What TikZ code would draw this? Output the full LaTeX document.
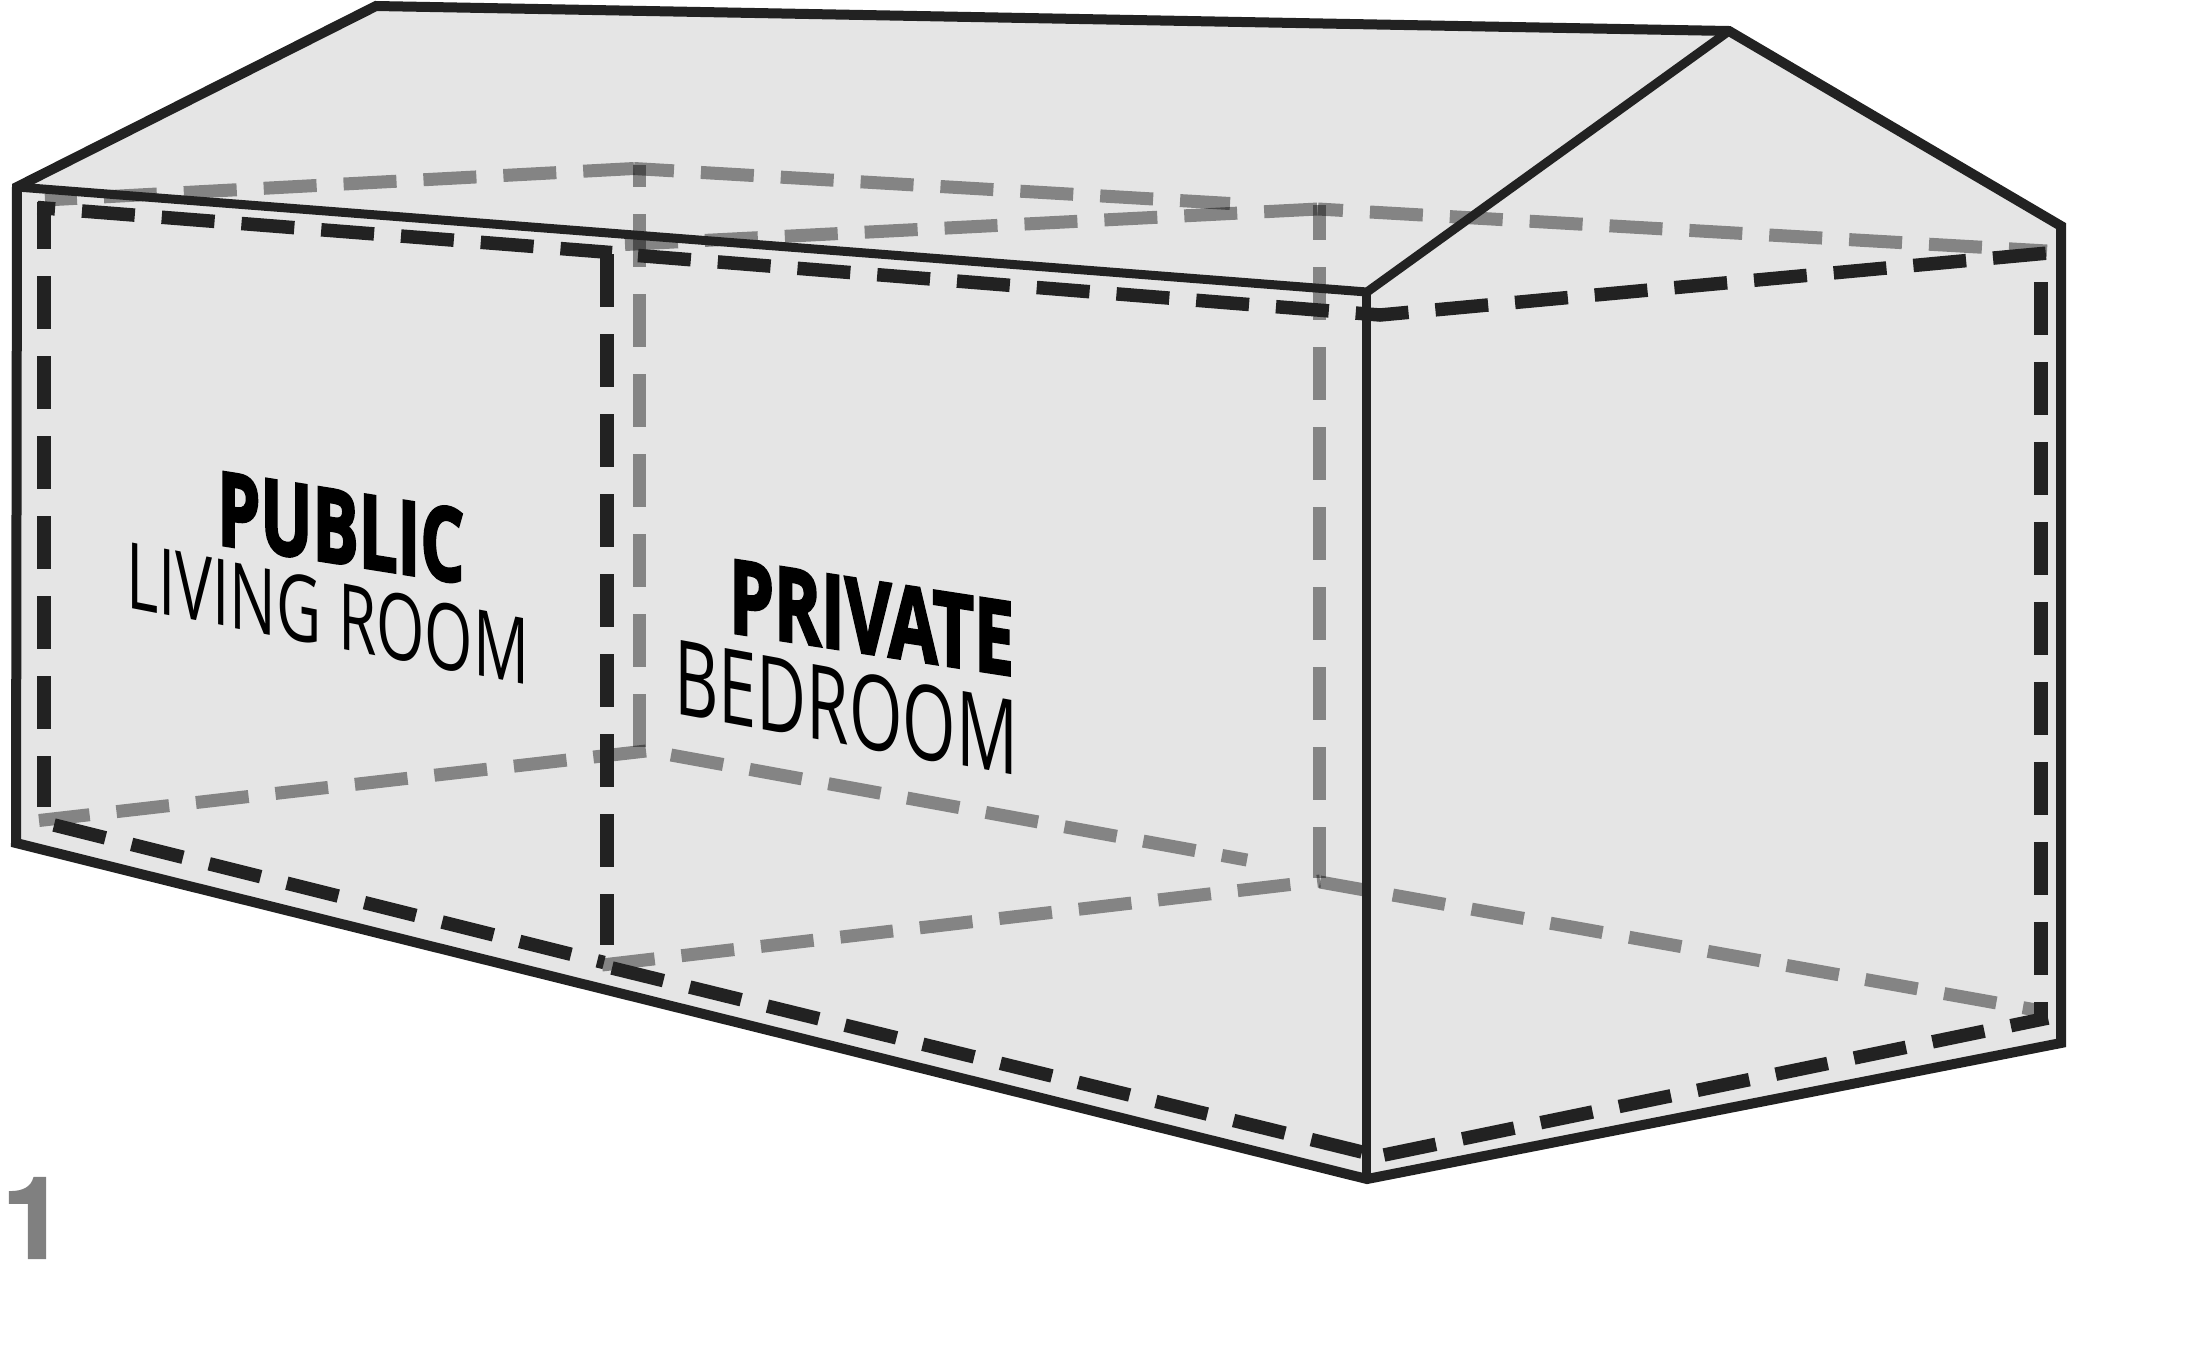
\documentclass[tikz,border=0pt]{standalone}
\usepackage{fontspec}
\setmainfont{Open Sans}
\newfontfamily\numfont{TeX Gyre Heros}
\definecolor{ink}{HTML}{222222}
\definecolor{wallfill}{HTML}{E5E5E5}
\definecolor{numgray}{HTML}{808080}
\tikzset{
  outline/.style={draw=ink,line width=10pt,line join=miter},
  edgeline/.style={draw=ink,line width=9pt},
  blackdash/.style={draw=ink,line width=13.5pt,dash pattern=on 53pt off 27pt},
  greydash/.style={draw=black,draw opacity=.42,line width=13pt,dash pattern=on 53pt off 27pt},
  boldlab/.style={transform shape,anchor=base west,inner sep=0pt,text=black,font=\fontsize{102}{102}\selectfont\bfseries\addfontfeatures{FakeBold=3}},
  thinlab/.style={transform shape,anchor=base west,inner sep=0pt,text=black},
}
\begin{document}
\begin{tikzpicture}[x=1pt,y=-1pt]
\useasboundingbox (0,0) rectangle (2200,1361);
% house silhouette fill
\fill[wallfill] (17,187) -- (376,6) -- (1729,31) -- (2061,226) -- (2061,1043) -- (1367,1179) -- (16,843) -- cycle;
% hidden (rear) lines, grey
\draw[greydash,dash phase=21pt] (45,200) -- (634,168.5);
\draw[greydash,dash phase=13pt] (634,168.5) -- (1230,203.5);
\draw[greydash] (625,244.5) -- (1318,209);
\draw[greydash,dash phase=28pt] (1318,209) -- (2047,251);
\draw[greydash,dash phase=31pt] (639,165) -- (639,747);
\draw[greydash,dash phase=18pt] (1319,205) -- (1319,878);
\draw[greydash] (646,751) -- (39,820.5);
\draw[greydash] (671,755) -- (1247,860);
\draw[greydash] (602,965) -- (1320,881);
\draw[greydash,dash phase=6pt] (1320,882) -- (2036,1010);
% outline
\draw[edgeline] (17,187) -- (1367,292) -- (1729,31);
\draw[edgeline] (1366.5,292) -- (1366.5,1179);
\draw[outline] (17,187) -- (376,6) -- (1729,31) -- (2061,226) -- (2061,1043) -- (1367,1179) -- (16,843) -- cycle;
% front-room lines, black
\draw[blackdash,dash phase=6pt] (44,202) -- (44,807);
\draw[blackdash,dash phase=35.4pt] (37.5,207.5) -- (612,252.6);
\draw[blackdash] (607,254) -- (607,945);
\draw[blackdash] (638,255.5) -- (1380,315) -- (2048,253);
\draw[blackdash] (2041,282) -- (2041,1022);
\draw[blackdash] (54,825) -- (604,962.5);
\draw[blackdash] (612,968) -- (1362,1152);
\draw[blackdash] (1384,1155) -- (2048,1018);
% labels
\begin{scope}[shift={(217,544)},cm={0.675,-0.1073,0,1,(0,0)}]
  \node[boldlab] (public) at (0,0) {PUBLIC};
\end{scope}
\begin{scope}[shift={(126,607)},cm={0.675,-0.131,0,1,(0,0)}]
  \node[thinlab,font=\fontsize{92}{92}\selectfont] (living) at (0,0) {LIVING ROOM};
\end{scope}
\begin{scope}[shift={(729,632)},cm={0.70,-0.1078,0,1,(0,0)}]
  \node[boldlab] (private) at (0,0) {PRIVATE};
\end{scope}
\begin{scope}[shift={(674,713)},cm={0.66,-0.1214,0,1,(0,0)}]
  \node[thinlab,font=\fontsize{104}{104}\selectfont] (bedroom) at (0,0) {BEDROOM};
\end{scope}
\node[anchor=base west,inner sep=0pt,text=numgray,font=\fontsize{113}{113}\selectfont\numfont\bfseries\addfontfeatures{FakeBold=2}] (num) at (2,1258) {1};
\end{tikzpicture}
\end{document}
